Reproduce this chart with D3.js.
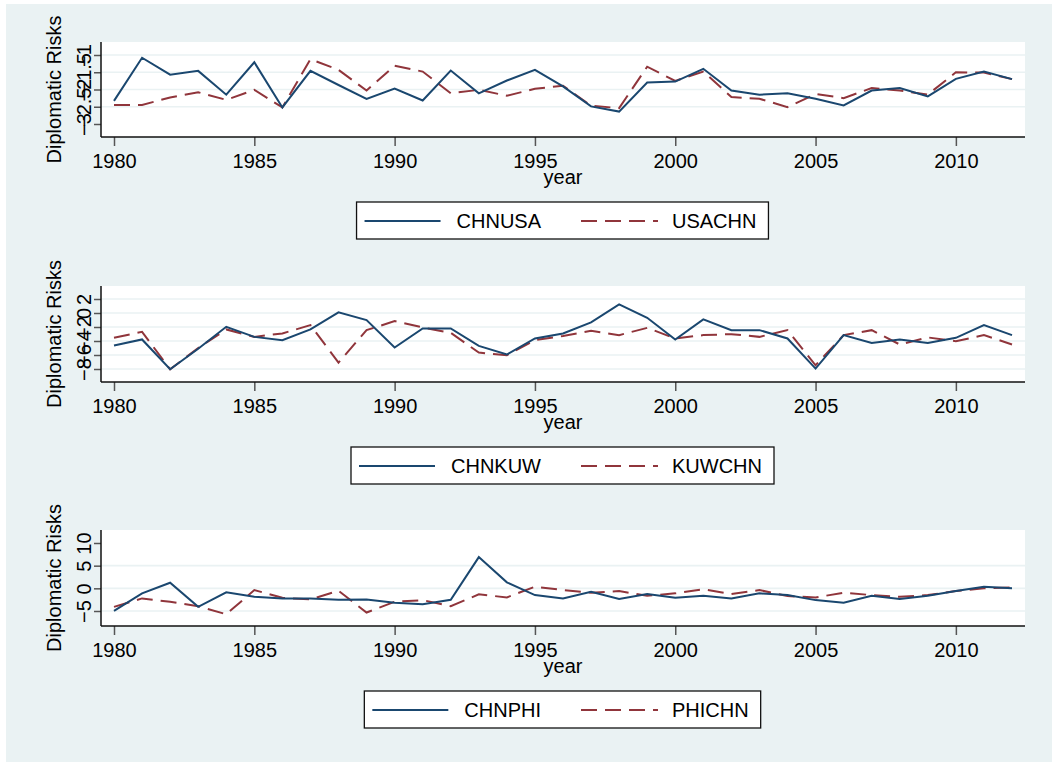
<!DOCTYPE html>
<html>
<head>
<meta charset="utf-8">
<script src="https://cdn.jsdelivr.net/npm/d3@7"></script>
<style>
  body { margin: 0; background: #fff; }
  text { font-family: "Liberation Sans", Arial, sans-serif; fill: #000; }
</style>
</head>
<body>
<div id="chart"></div>
<script>
// ---- data ----
var years = [1980,1981,1982,1983,1984,1985,1986,1987,1988,1989,1990,1991,1992,1993,1994,1995,1996,
             1997,1998,1999,2000,2001,2002,2003,2004,2005,2006,2007,2008,2009,2010,2011,2012];
var xTicks = [1980, 1985, 1990, 1995, 2000, 2005, 2010];

var chnusa = [-2.33,-1.08,-1.57,-1.46,-2.15,-1.21,-2.52,-1.46,-1.87,-2.27,-1.97,-2.32,-1.45,-2.11,-1.74,-1.43,-1.91,
              -2.49,-2.64,-1.80,-1.77,-1.40,-2.03,-2.15,-2.11,-2.27,-2.46,-2.03,-1.96,-2.20,-1.69,-1.48,-1.70];
var usachn = [-2.45,-2.45,-2.23,-2.08,-2.30,-2.01,-2.52,-1.12,-1.43,-2.03,-1.31,-1.48,-2.11,-2.01,-2.18,-1.98,-1.89,
              -2.47,-2.54,-1.34,-1.75,-1.48,-2.22,-2.27,-2.51,-2.13,-2.25,-1.96,-2.03,-2.15,-1.50,-1.51,-1.70];
var chnkuw = [-4.64,-3.78,-8.04,-5.10,-1.97,-3.41,-3.88,-2.35,0.09,-1.01,-4.93,-2.20,-2.20,-4.70,-5.93,-3.64,-2.92,
              -1.34,1.24,-0.68,-3.78,-0.91,-2.45,-2.45,-3.64,-7.94,-3.16,-4.27,-3.78,-4.27,-3.55,-1.73,-3.16];
var kuwchn = [-3.55,-2.69,-8.04,-5.00,-2.35,-3.41,-2.92,-1.73,-7.08,-2.45,-1.16,-2.06,-2.83,-5.65,-6.03,-3.88,-3.27,
              -2.55,-3.16,-2.12,-3.64,-3.16,-3.02,-3.41,-2.45,-7.47,-3.16,-2.45,-4.50,-3.49,-4.03,-3.16,-4.50];
var chnphi = [-4.98,-1.11,1.24,-4.09,-0.89,-1.87,-2.22,-2.22,-2.53,-2.44,-3.19,-3.49,-2.53,6.89,1.33,-1.49,-2.22,
              -0.76,-2.37,-1.27,-2.08,-1.64,-2.22,-1.11,-1.49,-2.60,-3.19,-1.64,-2.37,-1.64,-0.60,0.36,0.00];
var phichn = [-4.09,-2.22,-2.97,-3.93,-5.71,-0.38,-2.08,-2.44,-0.53,-5.33,-2.97,-2.60,-3.93,-1.33,-2.00,0.36,-0.38,
              -0.98,-0.60,-1.64,-1.11,-0.22,-1.27,-0.38,-1.71,-2.00,-0.98,-1.49,-1.87,-1.49,-0.60,0.00,0.22];

var yTicks1 = [-3, -2.5, -2, -1.5, -1];
var yTicks2 = [-8, -6, -4, -2, 0, 2];
var yTicks3 = [-5, 0, 5, 10];
var grid1 = [-2.5, -2, -1.5, -1];
var grid2 = [-8, -6, -4, -2, 0, 2];
var grid3 = [-5, 0, 5];

// ---- layout ----
var W = 1054, H = 768;
var BLUE = "#1a476f", RED = "#90353b", BG = "#eaf2f3";
var plotL = 101, plotR = 1025;

var panels = [
  {s1: chnusa, s2: usachn, n1: "CHNUSA", n2: "USACHN", ticks: yTicks1, grid: grid1, top: 42, bottom: 137, padB: 13},
  {s1: chnkuw, s2: kuwchn, n1: "CHNKUW", n2: "KUWCHN", ticks: yTicks2, grid: grid2, top: 286, bottom: 382, padB: 13},
  {s1: chnphi, s2: phichn, n1: "CHNPHI", n2: "PHICHN", ticks: yTicks3, grid: grid3, top: 530, bottom: 626, padB: 15}
];

var svg = d3.select("#chart").append("svg").attr("width", W).attr("height", H);
svg.append("rect").attr("x", 6).attr("y", 4).attr("width", 1046).attr("height", 758).attr("fill", BG);

var xScale = d3.scaleLinear().domain([1980, 2012]).range([plotL + 13, plotR - 13]);

panels.forEach(function(p) {
  var g = svg.append("g");
  var yScale = d3.scaleLinear()
    .domain([d3.min(p.ticks), d3.max(p.ticks)])
    .range([p.bottom - p.padB, p.top + 13]);

  g.append("rect").attr("x", plotL).attr("y", p.top)
    .attr("width", plotR - plotL).attr("height", p.bottom - p.top).attr("fill", "#fff");

  // grid
  g.selectAll(".grid").data(p.grid).enter().append("line")
    .attr("x1", plotL).attr("x2", plotR)
    .attr("y1", d => yScale(d)).attr("y2", d => yScale(d))
    .attr("stroke", BG).attr("stroke-width", 1.6);

  // y axis
  var yAxis = d3.axisLeft(yScale).tickValues(p.ticks).tickSize(7).tickPadding(3).tickFormat(d3.format("~g"));
  var ya = g.append("g").attr("transform", "translate(" + plotL + ",0)").call(yAxis);
  ya.select(".domain").remove();
  ya.selectAll(".tick line").attr("stroke", "#555").attr("stroke-width", 1.5);
  ya.selectAll(".tick text")
    .attr("x", null).attr("dy", null)
    .attr("transform", "translate(-10,0) rotate(-90)")
    .attr("text-anchor", "middle")
    .style("font-size", "20px").style("font-family", "'Liberation Sans', Arial, sans-serif").attr("fill", "#000");
  g.append("line").attr("x1", plotL).attr("x2", plotL).attr("y1", p.top).attr("y2", p.bottom)
    .attr("stroke", "#111").attr("stroke-width", 1.5);

  // x axis
  var xAxis = d3.axisBottom(xScale).tickValues(xTicks).tickSize(9).tickPadding(8).tickFormat(d3.format("d"));
  var xa = g.append("g").attr("transform", "translate(0," + p.bottom + ")").call(xAxis);
  xa.select(".domain").remove();
  xa.selectAll(".tick line").attr("stroke", "#555").attr("stroke-width", 1.5);
  xa.selectAll(".tick text").attr("y", null).attr("dy", null).attr("transform", "translate(0,30.5)")
    .style("font-size", "20px").style("font-family", "'Liberation Sans', Arial, sans-serif").attr("fill", "#000");
  g.append("line").attr("x1", plotL).attr("x2", plotR).attr("y1", p.bottom).attr("y2", p.bottom)
    .attr("stroke", "#111").attr("stroke-width", 1.5);

  // titles
  var cy = (p.top + p.bottom) / 2;
  g.append("text").attr("transform", "translate(61," + cy + ") rotate(-90)")
    .attr("text-anchor", "middle").style("font-size", "20px").text("Diplomatic Risks");
  g.append("text").attr("x", (plotL + plotR) / 2).attr("y", p.bottom + 47)
    .attr("text-anchor", "middle").style("font-size", "20px").text("year");

  // lines
  var line = d3.line().x((d, i) => xScale(years[i])).y(d => yScale(d));
  g.append("path").datum(p.s2).attr("d", line).attr("fill", "none")
    .attr("stroke", RED).attr("stroke-width", 2).attr("stroke-dasharray", "16,8");
  g.append("path").datum(p.s1).attr("d", line).attr("fill", "none")
    .attr("stroke", BLUE).attr("stroke-width", 2);

  // legend
  var cx = (plotL + plotR) / 2;
  var ly = p.bottom + 65;
  var lg = g.append("g");
  var box = lg.append("rect").attr("y", ly).attr("height", 37)
    .attr("fill", "#fff").attr("stroke", "#111").attr("stroke-width", 1.3);
  var t1 = lg.append("text").attr("y", ly + 26).style("font-size", "20px").text(p.n1);
  var t2 = lg.append("text").attr("y", ly + 26).style("font-size", "20px").text(p.n2);
  var w1 = t1.node().getComputedTextLength();
  var w2 = t2.node().getComputedTextLength();
  var t1x = cx - 22 - w1;
  var k2x = cx + 18;
  var t2x = k2x + 77 + 14;
  t1.attr("x", t1x);
  t2.attr("x", t2x);
  lg.append("line").attr("x1", t1x - 16 - 76).attr("x2", t1x - 16).attr("y1", ly + 19).attr("y2", ly + 19)
    .attr("stroke", BLUE).attr("stroke-width", 2);
  lg.append("line").attr("x1", k2x).attr("x2", k2x + 77).attr("y1", ly + 19).attr("y2", ly + 19)
    .attr("stroke", RED).attr("stroke-width", 2).attr("stroke-dasharray", "16,8");
  box.attr("x", t1x - 16 - 76 - 8).attr("width", (t2x + w2 + 12) - (t1x - 100));
});
</script>
</body>
</html>
